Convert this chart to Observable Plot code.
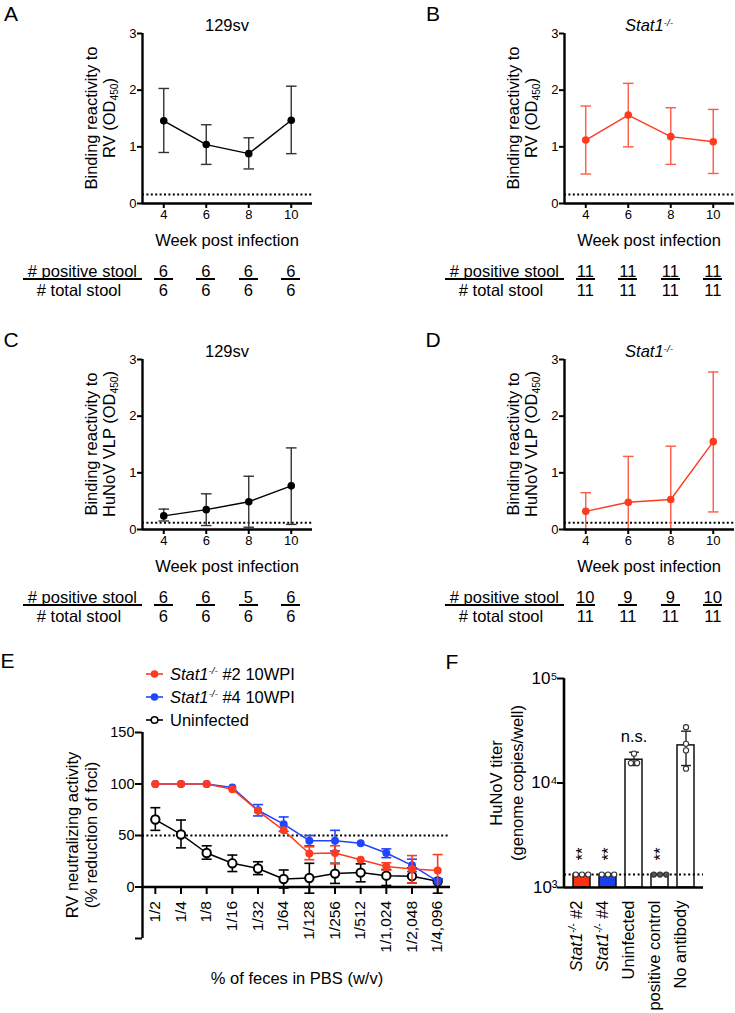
<!DOCTYPE html>
<html><head><meta charset="utf-8">
<script src="https://cdn.jsdelivr.net/npm/d3@7"></script>
<script src="https://cdn.jsdelivr.net/npm/@observablehq/plot@0.6"></script>
<style>
body{margin:0;background:#fff;}
#fig{position:relative;width:735px;height:1013px;overflow:hidden;font-family:"Liberation Sans",Arial,Helvetica,sans-serif;color:#000;background:#fff;}
.abs{position:absolute;white-space:nowrap;line-height:1;}
.sup{font-size:0.6em;position:relative;top:-0.55em;}
.sub{font-size:0.62em;position:relative;top:0.28em;}
</style></head><body><div id="fig"></div>
<script>
// ---------------- DATA ----------------
const weeks = [4, 6, 8, 10];
// A: 129sv, RV
const rvWT = [1.46, 1.04, 0.88, 1.47];
const rvWTlo = [0.90, 0.69, 0.61, 0.88];
const rvWThi = [2.03, 1.39, 1.16, 2.07];
// B: Stat1-/-, RV
const rvKO = [1.12, 1.56, 1.18, 1.09];
const rvKOlo = [0.52, 1.00, 0.69, 0.53];
const rvKOhi = [1.72, 2.12, 1.69, 1.66];
// C: 129sv, HuNoV VLP
const vlpWT = [0.24, 0.35, 0.49, 0.77];
const vlpWTlo = [0.15, 0.07, 0.04, 0.09];
const vlpWThi = [0.36, 0.63, 0.94, 1.44];
// D: Stat1-/-, HuNoV VLP
const vlpKO = [0.32, 0.48, 0.53, 1.55];
const vlpKOlo = [0, 0, 0, 0.31];
const vlpKOhi = [0.65, 1.29, 1.47, 2.78];
const rvCutoff = 0.16;
const vlpCutoff = 0.12;
const odTicks = [0, 1, 2, 3];
// tables
const posA = [6, 6, 6, 6], totA = [6, 6, 6, 6];
const posB = [11, 11, 11, 11], totB = [11, 11, 11, 11];
const posC = [6, 6, 5, 6], totC = [6, 6, 6, 6];
const posD = [10, 9, 9, 10], totD = [11, 11, 11, 11];

// E: neutralization
const dilutions = ["1/2","1/4","1/8","1/16","1/32","1/64","1/128","1/256","1/512","1/1,024","1/2,048","1/4,096"];
const eRed   = [100, 100, 100, 95, 74, 55, 32.5, 33, 26.5, 20, 17.5, 16];
const eRedLo = [100, 100, 100, 95, 74, 55, 26.5, 22.5, 26.5, 16.5, 4, 0];
const eRedHi = [100, 100, 100, 95, 74, 55, 39, 40, 26.5, 23.5, 30.5, 31.5];
const eBlue   = [100, 100, 100, 96.5, 74.5, 61, 45, 45, 42.5, 33, 21, 5.5];
const eBlueLo = [100, 100, 100, 96.5, 69, 54, 40, 35, 42.5, 28.5, 15, 0.5];
const eBlueHi = [100, 100, 100, 96.5, 80, 68, 50, 55, 42.5, 37, 27, 8];
const eBlack   = [65.5, 51, 33, 23, 18, 7.8, 8.7, 13, 14, 11, 10.5, 5.5];
const eBlackLo = [55, 38, 27, 15, 12, -1, -6, 3.5, 5, 1.5, 4, -6];
const eBlackHi = [77, 65, 40, 31, 24.5, 16.5, 23, 23, 22.5, 17, 18.5, 8];
const neutCutoff = 50;
const eTicks = [-50, 0, 50, 100, 150];

// F: HuNoV titer
const fGroups = ["Stat1-/- #2", "Stat1-/- #4", "Uninfected", "positive control", "No antibody"];
const fMeans = [1330, 1330, 16700, 1330, 22900];
const fPoints = [[1330,1330,1330],[1330,1330,1330],[19100,15500,15500],[1330,1330,1330],[34200,23700,20500,13700]];
const fErrLo = [null, null, 14700, null, 14700];
const fErrHi = [null, null, 19700, null, 31300];
const fSig = ["**", "**", "n.s.", "**", ""];
const fLOD = 1330;
const fTicks = [1e3, 1e4, 1e5];

// ---------------- STYLE ----------------
const FONT = '"Liberation Sans", Arial, Helvetica, sans-serif';
const RED = "#ff3b1f", RED_ERR = "#ff5a45", BLUE = "#1f45ff", BLK = "#000", GREY_ERR = "#333";
const fFills = {"Stat1-/- #2": "#ff2d12", "Stat1-/- #4": "#1a3ff0", "Uninfected": "#fff", "positive control": "#fff", "No antibody": "#fff"};
const fDotFill = {"Stat1-/- #2": "#fff", "Stat1-/- #4": "#fff", "Uninfected": "#fff", "positive control": "#555", "No antibody": "#fff"};

const fig = document.getElementById("fig");
const capSym = {draw(ctx, size){const r = Math.sqrt(size/Math.PI); ctx.moveTo(-r,0); ctx.lineTo(r,0);}};
const vtickSym = {draw(ctx, size){const r = Math.sqrt(size/Math.PI); ctx.moveTo(0,0); ctx.lineTo(0,r);}};

function addDiv(html, style) {
  const d = document.createElement("div");
  d.className = "abs";
  d.innerHTML = html;
  Object.assign(d.style, style);
  fig.appendChild(d);
  return d;
}
function ctext(html, x, y, size, extra = {}) {
  return addDiv(html, {left: x + "px", top: y + "px", fontSize: size + "px", transform: "translate(-50%,-50%)", ...extra});
}
function rlabel(lines, cx, cy, size, lh) {
  return addDiv(lines.join("<br>"), {left: cx + "px", top: cy + "px", fontSize: size + "px", lineHeight: lh + "px",
    textAlign: "center", transform: "translate(-50%,-50%) rotate(-90deg)"});
}
// rotated text reading bottom-to-top, its end anchored at (x, y), hanging downward
function vtext(html, x, y, size) {
  return addDiv(html, {left: x + "px", top: y + "px", fontSize: size + "px", transformOrigin: "0 0",
    transform: "rotate(-90deg) translate(-100%,-50%)"});
}
function place(svg, left, top) {
  svg.style.position = "absolute"; svg.style.left = left + "px"; svg.style.top = top + "px"; svg.style.overflow = "visible";
  fig.appendChild(svg);
}
const stat1 = '<i>Stat1</i><i class="sup">-/-</i>';

// ---------------- PANELS A-D ----------------
function linePanel(p) {
  const data = weeks.map((w, i) => ({w, m: p.mean[i], lo: p.lo[i], hi: p.hi[i]}));
  const chart = Plot.plot({
    width: 314, height: 206, marginLeft: 142, marginRight: 2, marginTop: 33, marginBottom: 3,
    style: {fontFamily: FONT, color: "#000", background: "transparent", overflow: "visible"},
    x: {domain: [3, 11], label: null},
    y: {domain: [0, 3], label: null},
    marks: [
      Plot.ruleY([p.cutoff], {stroke: "#000", strokeWidth: 2, strokeDasharray: "2,2.4"}),
      Plot.ruleX(data, {x: "w", y1: "lo", y2: "hi", stroke: p.err, strokeWidth: 1.4}),
      Plot.dot(data, {x: "w", y: "hi", symbol: capSym, r: 5.3, fill: "none", stroke: p.err, strokeWidth: 1.4}),
      Plot.dot(data.filter(d => d.lo > 0), {x: "w", y: "lo", symbol: capSym, r: 5.3, fill: "none", stroke: p.err, strokeWidth: 1.4}),
      Plot.line(data, {x: "w", y: "m", stroke: p.color, strokeWidth: 1.4}),
      Plot.dot(data, {x: "w", y: "m", r: 3.8, fill: p.color, stroke: "none"}),
      Plot.axisX({ticks: weeks, tickFormat: d => String(d), tickSize: 5, tickPadding: 1, fontSize: 13, strokeWidth: 2, label: null}),
      Plot.axisY({ticks: odTicks, tickFormat: d => String(d), tickSize: 5, tickPadding: 1, fontSize: 13, strokeWidth: 2, label: null}),
      Plot.ruleY([0], {stroke: "#000", strokeWidth: 2.4}),
      Plot.ruleX([3], {y1: 0, y2: 3, stroke: "#000", strokeWidth: 2.4})
    ]
  });
  place(chart, p.left, p.top);
  const L = p.left, T = p.top;
  ctext(p.letter, L + 11, T + 12.5, 21);
  ctext(p.title, L + 227, T + 25, 16.5);
  ctext("Week post infection", L + 227, T + 240, 16.5);
  rlabel(p.ylab, L + 101, T + 117.5, 16.5, 18);
  // table
  addDiv("# positive stool", {left: (L + 23) + "px", top: (T + 262.5) + "px", width: "119px", textAlign: "right",
    fontSize: "16.5px", boxSizing: "border-box", paddingRight: "5px"});
  addDiv("", {left: (L + 23) + "px", top: (T + 278.3) + "px", width: "119px", height: "1.9px", background: "#000"});
  ctext("# total stool", L + 79, T + 289.5, 16.5);
  const xs = chart.scale("x");
  weeks.forEach((w, i) => {
    const cx = L + xs.apply(w);
    ctext(String(p.pos[i]), cx, T + 271, 16.5);
    addDiv("", {left: (cx - 9.3) + "px", top: (T + 278.3) + "px", width: "18.6px", height: "1.9px", background: "#000"});
    ctext(String(p.tot[i]), cx, T + 289.5, 16.5);
  });
}
const rvLab = ["Binding reactivity to", 'RV (OD<span class="sub">450</span>)'];
const vlpLab = ["Binding reactivity to", 'HuNoV VLP (OD<span class="sub">450</span>)'];
linePanel({left: 0, top: 0, letter: "A", title: "129sv", ylab: rvLab, mean: rvWT, lo: rvWTlo, hi: rvWThi, color: BLK, err: GREY_ERR, cutoff: rvCutoff, pos: posA, tot: totA});
linePanel({left: 422, top: 0, letter: "B", title: stat1, ylab: rvLab, mean: rvKO, lo: rvKOlo, hi: rvKOhi, color: RED, err: RED_ERR, cutoff: rvCutoff, pos: posB, tot: totB});
linePanel({left: 0, top: 326, letter: "C", title: "129sv", ylab: vlpLab, mean: vlpWT, lo: vlpWTlo, hi: vlpWThi, color: BLK, err: GREY_ERR, cutoff: vlpCutoff, pos: posC, tot: totC});
linePanel({left: 422, top: 326, letter: "D", title: stat1, ylab: vlpLab, mean: vlpKO, lo: vlpKOlo, hi: vlpKOhi, color: RED, err: RED_ERR, cutoff: vlpCutoff, pos: posD, tot: totD});

// ---------------- PANEL E ----------------
const E_LEFT = 0, E_TOP = 700;
function rows(v, lo, hi) { return dilutions.map((d, i) => ({i, d, v: v[i], lo: lo[i], hi: hi[i]})); }
const eSeries = [
  {rows: rows(eBlack, eBlackLo, eBlackHi), color: BLK, open: true},
  {rows: rows(eBlue, eBlueLo, eBlueHi), color: BLUE, open: false},
  {rows: rows(eRed, eRedLo, eRedHi), color: RED, open: false}
];
const eMarks = [Plot.ruleY([neutCutoff], {stroke: "#000", strokeWidth: 2, strokeDasharray: "2,2.4"})];
for (const s of eSeries) {
  const err = s.rows.filter(d => d.hi > d.lo);
  eMarks.push(
    Plot.ruleX(err, {x: "i", y1: "lo", y2: "hi", stroke: s.color, strokeWidth: 1.6}),
    Plot.dot(err, {x: "i", y: "hi", symbol: capSym, r: 5, fill: "none", stroke: s.color, strokeWidth: 1.6}),
    Plot.dot(err, {x: "i", y: "lo", symbol: capSym, r: 5, fill: "none", stroke: s.color, strokeWidth: 1.6}),
    Plot.line(s.rows, {x: "i", y: "v", stroke: s.color, strokeWidth: 1.5}),
    s.open
      ? Plot.dot(s.rows, {x: "i", y: "v", r: 4.2, fill: "#fff", stroke: s.color, strokeWidth: 2})
      : Plot.dot(s.rows, {x: "i", y: "v", r: 4, fill: s.color, stroke: "none"})
  );
}
eMarks.push(
  Plot.axisY({ticks: eTicks, tickFormat: d => d < 0 ? "" : String(d), tickSize: 7, tickPadding: 1, fontSize: 14.5, strokeWidth: 2, label: null}),
  Plot.ruleY([0], {stroke: "#000", strokeWidth: 2.4}),
  Plot.ruleX([-0.5], {y1: -50, y2: 150, stroke: "#000", strokeWidth: 2.4}),
  Plot.dot(dilutions, {x: (d, i) => i, y: 0, symbol: vtickSym, r: 7, fill: "none", stroke: "#000", strokeWidth: 2})
);
const chartE = Plot.plot({
  width: 455, height: 268, marginLeft: 142, marginRight: 5, marginTop: 32, marginBottom: 30,
  style: {fontFamily: FONT, color: "#000", background: "transparent", overflow: "visible"},
  x: {domain: [-0.5, 11.5], label: null, axis: null},
  y: {domain: [-50, 150], label: null},
  marks: eMarks
});
place(chartE, E_LEFT, E_TOP);
{
  const xs = chartE.scale("x"), ys = chartE.scale("y");
  dilutions.forEach((d, i) => vtext(d, E_LEFT + xs.apply(i), E_TOP + ys.apply(0) + 14, 15.5));
}
ctext("E", 7.5, 660, 21);
ctext("% of feces in PBS (w/v)", 297, 978, 16.5);
rlabel(["RV neutralizing activity", "(% reduction of foci)"], 81.5, 835, 16.5, 19);
// legend
const legendItems = [
  {html: stat1 + " #2 10WPI", color: RED, open: false},
  {html: stat1 + " #4 10WPI", color: BLUE, open: false},
  {html: "Uninfected", color: BLK, open: true}
];
legendItems.forEach((it, k) => {
  const y = 674 + k * 23;
  const sw = it.open
    ? `<svg width="20" height="12" style="display:block"><line x1="1" x2="18" y1="6" y2="6" stroke="${it.color}" stroke-width="1.6"/><circle cx="9.5" cy="6" r="3.3" fill="#fff" stroke="${it.color}" stroke-width="1.6"/></svg>`
    : `<svg width="20" height="12" style="display:block"><line x1="1" x2="18" y1="6" y2="6" stroke="${it.color}" stroke-width="1.6"/><circle cx="9.5" cy="6" r="3.8" fill="${it.color}"/></svg>`;
  addDiv(sw, {left: "145px", top: (y - 6) + "px"});
  addDiv(it.html, {left: "170px", top: (y - 8.25) + "px", fontSize: "16.5px"});
});

// ---------------- PANEL F ----------------
const F_LEFT = 460, F_TOP = 640;
const fBars = fGroups.map((g, i) => ({g, m: fMeans[i], lo: fErrLo[i], hi: fErrHi[i], sig: fSig[i]}));
const fPts = [];
fGroups.forEach((g, gi) => {
  const vals = fPoints[gi];
  vals.forEach((v, j) => {
    const same = vals.map((u, k) => ({u, k})).filter(o => o.u === v);
    const idx = same.findIndex(o => o.k === j);
    fPts.push({g, v, off: idx - (same.length - 1) / 2});
  });
});
const offsets = [...new Set(fPts.map(p => p.off))];
const supDigits = {3: "\u00b3", 4: "\u2074", 5: "\u2075"};
const yAxisLine = (index, scales, values, dims) => {
  const l = document.createElementNS("http://www.w3.org/2000/svg", "line");
  const x = dims.marginLeft;
  l.setAttribute("x1", x); l.setAttribute("x2", x);
  l.setAttribute("y1", scales.y(1e5)); l.setAttribute("y2", scales.y(1e3));
  l.setAttribute("stroke", "#000"); l.setAttribute("stroke-width", 2.6);
  return l;
};
const fErr = fBars.filter(d => d.lo != null);
const chartF = Plot.plot({
  width: 275, height: 372, marginLeft: 104, marginRight: 32, marginTop: 38, marginBottom: 125,
  style: {fontFamily: FONT, color: "#000", background: "transparent", overflow: "visible"},
  x: {type: "band", domain: fGroups, paddingInner: 0.35, paddingOuter: 0.33, label: null, axis: null},
  y: {type: "log", domain: [1e3, 1e5], label: null},
  marks: [
    Plot.barY(fBars, {x: "g", y1: 1000, y2: "m", fill: d => fFills[d.g], stroke: "#111", strokeWidth: 1.5}),
    Plot.ruleY([fLOD], {stroke: "#000", strokeWidth: 2, strokeDasharray: "2,2.6"}),
    Plot.ruleX(fErr, {x: "g", y1: "lo", y2: "hi", stroke: "#222", strokeWidth: 1.4}),
    Plot.dot(fErr, {x: "g", y: "hi", symbol: capSym, r: 5, fill: "none", stroke: "#222", strokeWidth: 1.4}),
    Plot.dot(fErr, {x: "g", y: "lo", symbol: capSym, r: 5, fill: "none", stroke: "#222", strokeWidth: 1.4}),
    ...offsets.map(o => Plot.dot(fPts.filter(p => p.off === o), {x: "g", y: "v", dx: o * 6.2, r: 2.6,
      fill: d => fDotFill[d.g], stroke: "#333", strokeWidth: 1.1})),
    Plot.text(fBars.filter(d => d.sig === "n.s."), {x: "g", y: "hi", text: "sig", lineAnchor: "bottom", dy: -10, fontSize: 16.5}),
    Plot.axisY({ticks: fTicks, tickFormat: d => "10" + supDigits[Math.round(Math.log10(d))], tickSize: 7, tickPadding: 0, fontSize: 17, strokeWidth: 2, label: null}),
    Plot.ruleY([1e3], {stroke: "#000", strokeWidth: 2.6}),
    yAxisLine,
    Plot.text(fGroups, {x: d => d, frameAnchor: "bottom", dy: 13, rotate: -90, textAnchor: "end", fontSize: 16.5, text: d => d})
  ]
});
// rich text for genotype labels
chartF.querySelectorAll("text").forEach(t => {
  const s = t.textContent;
  if (s.startsWith("Stat1-/-")) {
    const rest = s.slice(8);
    t.textContent = "";
    const ns = "http://www.w3.org/2000/svg";
    const a = document.createElementNS(ns, "tspan"); a.setAttribute("font-style", "italic"); a.textContent = "Stat1";
    const b = document.createElementNS(ns, "tspan"); b.setAttribute("font-style", "italic"); b.setAttribute("font-size", "10"); b.setAttribute("dy", "-6"); b.textContent = "-/-";
    const c = document.createElementNS(ns, "tspan"); c.setAttribute("dy", "6"); c.textContent = rest;
    t.append(a, b, c);
  }
});
place(chartF, F_LEFT, F_TOP);
{
  const xs = chartF.scale("x"), ys = chartF.scale("y");
  fBars.filter(d => d.sig === "**").forEach(d => {
    const cx = F_LEFT + xs.apply(d.g) + xs.bandwidth / 2;
    const cy = F_TOP + ys.apply(d.m) - 20;
    addDiv("**", {left: cx + "px", top: cy + "px", fontSize: "17px", transform: "translate(-50%,-50%) rotate(-90deg)"});
  });
}
ctext("F", 452, 660.5, 21);
rlabel(["HuNoV titer", "(genome copies/well)"], 506.5, 783, 16.5, 21);
</script></body></html>
